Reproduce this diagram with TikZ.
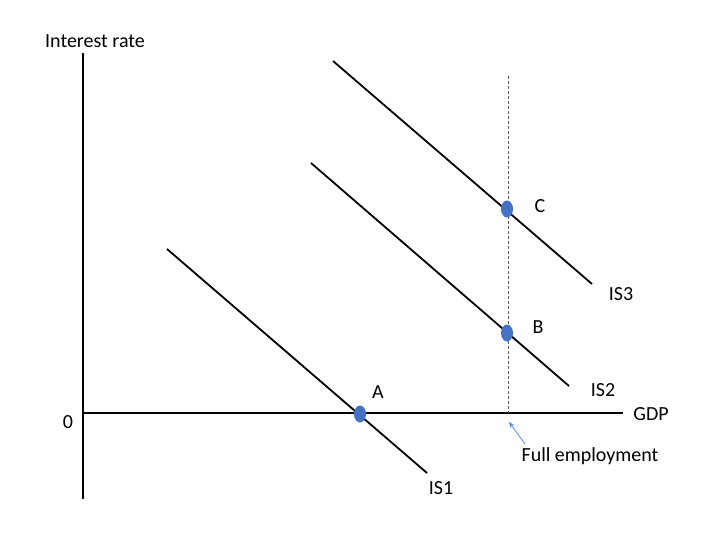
\documentclass[tikz,border=0pt]{standalone}
\usepackage{fontspec}
\setmainfont{Carlito}
\usetikzlibrary{arrows.meta,shapes.geometric}
\begin{document}
\begin{tikzpicture}[x=1pt,y=-1pt,
  axis/.style={line width=2pt,black},
  curve/.style={line width=1.8pt,black},
  lbl/.style={font=\fontsize{20}{22}\selectfont,inner sep=0pt},
  pt/.style={ellipse,fill={rgb,255:red,68;green,114;blue,196},minimum width=12pt,minimum height=17pt,inner sep=0pt},
  ptr/.style={-{Stealth[length=6pt,width=5pt]},draw={rgb,255:red,91;green,141;blue,226},line width=0.8pt}]
\useasboundingbox (0,0) rectangle (723,536);
% axes
\coordinate (yt) at (83,53);
\coordinate (yb) at (83,499);
\coordinate (xl) at (83,413);
\coordinate (xr) at (623,413);
\draw[axis] (yt) -- (yb);
\draw[axis] (xl) -- (xr);
\node[lbl] (ylab) at (95,41) {Interest rate};
\node[lbl] (xlab) at (651,414) {GDP};
\node[lbl] (zero) at (68,422) {0};
% full employment line
\coordinate (ft) at (508,76);
\coordinate (fb) at (508,413);
\draw[line width=0.8pt,gray!70!black,dash pattern=on 3pt off 2pt] (ft) -- (fb);
% IS curves
\coordinate (is1a) at (167,249);
\coordinate (is1b) at (427,473);
\coordinate (is2a) at (311,163);
\coordinate (is2b) at (569,386);
\coordinate (is3a) at (333,61);
\coordinate (is3b) at (592,284);
\draw[curve] (is1a) -- (is1b);
\draw[curve] (is2a) -- (is2b);
\draw[curve] (is3a) -- (is3b);
\node[lbl] (l1) at (441,488) {IS1};
\node[lbl] (l2) at (603,390) {IS2};
\node[lbl] (l3) at (621,294) {IS3};
% points
\node[pt] (A) at (360,414) {};
\node[pt] (B) at (507,333) {};
\node[pt] (C) at (507,209) {};
\node[lbl] (la) at (378,392) {A};
\node[lbl] (lb) at (538,327) {B};
\node[lbl] (lc) at (540,206) {C};
% full employment label
\node[lbl] (fe) at (590,456) {Full employment};
\coordinate (fes) at (525,444);
\coordinate (fetip) at (509,422);
\draw[ptr] (fes) -- (fetip);
\end{tikzpicture}
\end{document}
